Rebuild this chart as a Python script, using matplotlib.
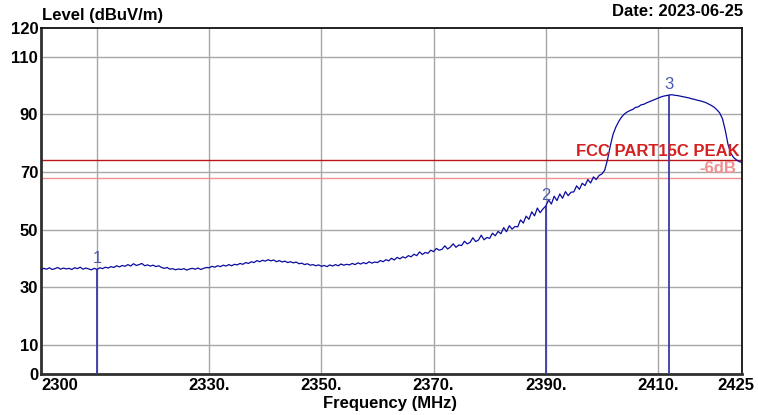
import numpy as np
import matplotlib
matplotlib.use("Agg")
import matplotlib.pyplot as plt
import matplotlib.transforms as mtransforms

plt.rcParams["font.family"] = ["Liberation Sans", "DejaVu Sans"]

# sweep levels, 0.5 MHz steps from 2300 to 2425 MHz (dBuV/m)
level = [
    36.1, 36.6, 36.3, 36.8, 36.2, 36.5, 36.9, 36.3, 36.7, 36.4,
    36.6, 36.2, 36.8, 36.5, 37.0, 36.3, 36.7, 36.4, 36.1, 36.6,
    36.2, 36.8, 36.5, 37.0, 36.7, 37.2, 36.9, 37.5, 37.1, 37.6,
    37.3, 37.9, 37.4, 38.2, 37.6, 37.9, 38.3, 37.5, 37.8, 37.4,
    37.7, 37.2, 37.5, 36.9, 36.6, 36.9, 36.3, 36.5, 36.1, 36.4,
    36.2, 36.5, 36.0, 36.4, 36.6, 36.3, 36.7, 36.2, 36.6, 36.9,
    36.8, 37.3, 37.0, 37.5, 37.2, 37.7, 37.4, 37.9, 37.5, 38.0,
    37.8, 38.3, 38.0, 38.6, 38.3, 38.9, 38.6, 39.3, 38.9, 39.4,
    39.1, 39.6, 39.2, 39.5, 38.9, 39.3, 38.8, 39.1, 38.6, 38.9,
    38.5, 38.8, 38.2, 38.4, 37.9, 38.2, 37.7, 37.9, 37.5, 37.8,
    37.3, 37.6, 37.2, 37.8, 37.4, 37.9, 37.5, 38.1, 37.7, 38.0,
    37.8, 38.3, 37.9, 38.5, 38.1, 38.6, 38.2, 38.9, 38.4, 38.8,
    38.6, 39.3, 38.9, 39.6, 39.2, 40.1, 39.5, 40.4, 39.9, 40.6,
    40.2, 41.0, 40.6, 41.5, 41.0, 42.3, 41.4, 42.1, 41.8, 42.9,
    42.4, 43.5, 42.9, 43.2, 44.4, 43.3, 44.0, 45.1, 43.9, 44.7,
    44.5, 46.0, 45.1, 45.6, 47.2, 45.9, 46.4, 48.1, 46.5, 47.3,
    47.0, 48.8, 47.9, 49.4, 48.6, 50.7, 49.3, 51.4, 50.2, 51.1,
    51.0, 53.4, 52.3, 54.7, 53.6, 56.2, 54.8, 57.5, 55.9, 57.2,
    58.2, 60.3, 58.9, 61.6, 60.1, 62.4, 60.9, 63.2, 61.8, 63.0,
    63.1, 65.2, 64.0, 66.1, 65.3, 67.4, 66.2, 68.3, 67.4, 68.8,
    69.3, 70.6, 74.2, 79.0, 83.1, 85.6, 87.5, 89.0, 90.1, 90.8,
    91.3, 91.7, 92.4, 92.6, 93.3, 93.5, 94.0, 94.4, 94.8, 95.2,
    95.6, 96.0, 96.3, 96.5, 96.7, 96.8, 96.6, 96.5, 96.3, 96.1,
    95.9, 95.7, 95.4, 95.2, 94.9, 94.7, 94.4, 94.1, 93.6, 93.1,
    92.5, 91.6, 90.5, 88.5, 84.5, 79.5, 76.5, 75.0, 74.2, 73.6,
    73.3,
]
freq = np.linspace(2300, 2425, len(level))

marker_freq = [2310, 2390, 2412]
marker_names = ["1", "2", "3"]

limit_peak = 74
limit_margin = 68

x_ticks = [2300, 2330, 2350, 2370, 2390, 2410, 2425]
x_ticklabels = ["2300", "2330.", "2350.", "2370.", "2390.", "2410.", "2425"]
x_grid = [2310, 2330, 2350, 2370, 2390, 2410]
y_ticks = [0, 10, 30, 50, 70, 90, 110, 120]
y_grid = [10, 30, 50, 70, 90, 110]

fig = plt.figure(figsize=(7.58, 4.15), dpi=100)
ax = fig.add_axes([0.054, 0.099, 0.925, 0.834])
ax.set_xlim(2300, 2425)
ax.set_ylim(0, 120)

for g in x_grid:
    ax.axvline(g, color="#a8a8a8", lw=1.0, zorder=1)
for g in y_grid:
    ax.axhline(g, color="#a8a8a8", lw=1.0, zorder=1)

ax.axhline(limit_peak, color="#b81818", lw=1.0, zorder=2)
ax.axhline(limit_margin, color="#f09090", lw=1.0, zorder=2)

ax.plot(freq, level, color="#0a0aa0", lw=0.9, zorder=4)

mk_level = np.interp(marker_freq, freq, level)
for f, v, name in zip(marker_freq, mk_level, marker_names):
    ax.vlines(f, 0, v, color="#3a3aa8", lw=1.3, zorder=3)
    ax.text(f, v + 1.2, name, color="#4a58b0", fontsize=12,
            ha="center", va="bottom", zorder=5)

ax.text(2424.6, limit_peak + 0.5, "FCC PART15C PEAK", color="#d42020",
        fontsize=12, fontweight="bold", ha="right", va="bottom", zorder=5)
ax.text(2424.0, limit_margin + 3.3, "-6dB", color="#f09090",
        fontsize=12, fontweight="bold", ha="right", va="center", zorder=5)

ax.set_xticks(x_ticks)
ax.set_xticklabels(x_ticklabels, fontsize=12, fontweight="bold")
ax.set_yticks(y_ticks)
ax.set_yticklabels([str(t) for t in y_ticks], fontsize=12, fontweight="bold")
ax.tick_params(length=0, pad=2)
ax.tick_params(axis="x", pad=3)
lbls = ax.get_xticklabels()
lbls[0].set_ha("left")
lbls[-1].set_ha("right")
shift = mtransforms.ScaledTranslation(12 / 100, 0, fig.dpi_scale_trans)
lbls[-1].set_transform(lbls[-1].get_transform() + shift)

for side in ["left", "bottom"]:
    ax.spines[side].set_linewidth(2.0)
    ax.spines[side].set_color("#303030")
for side in ["top", "right"]:
    ax.spines[side].set_linewidth(1.3)
    ax.spines[side].set_color("#101010")

fig.text(0.055, 0.945, "Level (dBuV/m)", fontsize=12, fontweight="bold",
         ha="left", va="bottom")
fig.text(0.98, 0.955, "Date: 2023-06-25", fontsize=12, fontweight="bold",
         ha="right", va="bottom")
fig.text(0.515, 0.01, "Frequency (MHz)", fontsize=12, fontweight="bold",
         ha="center", va="bottom")

fig.savefig("out.png", dpi=100)
